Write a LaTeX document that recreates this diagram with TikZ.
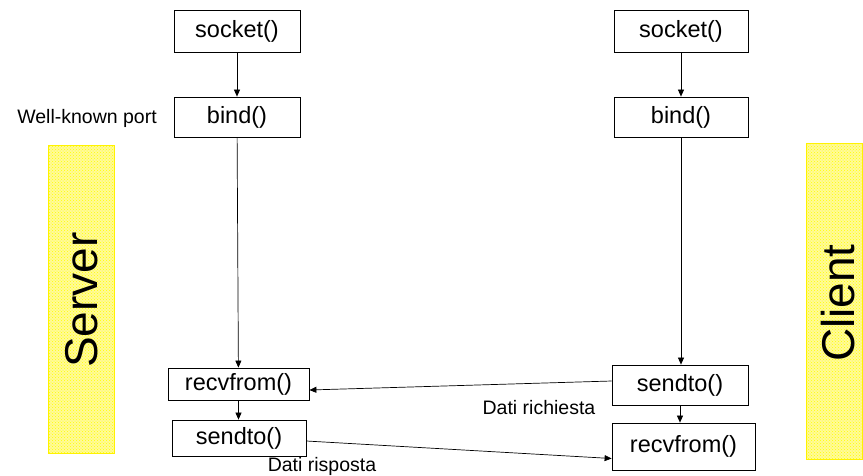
\documentclass[tikz,border=0pt]{standalone}
\usepackage{fontspec}
\setmainfont{Liberation Sans}
\usetikzlibrary{arrows.meta,patterns}
\begin{document}
\begin{tikzpicture}[x=1pt,y=-1pt,
  call/.style={draw,line width=0.8pt,inner sep=0pt,font=\fontsize{23.5}{25}\selectfont},
  flow/.style={line width=0.7pt,-{Triangle[length=7pt,width=6pt]}},
  lbl/.style={inner sep=0pt,font=\fontsize{19.5}{21}\selectfont},
  role/.style={draw=yellow,line width=0.8pt,preaction={fill=yellow!40},
    pattern=crosshatch dots,pattern color=yellow,inner sep=0pt},
  rolename/.style={rotate=90,font=\fontsize{46}{50}\selectfont}]
\useasboundingbox (0,0) rectangle (863,475);

% side bands
\node[role,minimum width=66pt,minimum height=308pt] (srvband) at (81,299) {};
\node[rolename] (srvname) at (82,300) {Server};
\node[role,minimum width=56pt,minimum height=316pt] (cliband) at (834,301) {};
\node[rolename] (cliname) at (838,303) {Client};

% server side calls
\node[call,minimum width=126pt,minimum height=42pt] (ssock) at (237,31) {socket()};
\node[call,minimum width=126pt,minimum height=40pt] (sbind) at (237,117) {bind()};
\node[call,minimum width=141pt,minimum height=32pt] (srecv) at (238.5,384) {recvfrom()};
\node[call,minimum width=134pt,minimum height=36pt] (ssend) at (239,438) {sendto()};

% client side calls
\node[call,minimum width=134pt,minimum height=42pt] (csock) at (681,31) {socket()};
\node[call,minimum width=134pt,minimum height=40pt] (cbind) at (681,117) {bind()};
\node[call,minimum width=136pt,minimum height=40pt] (csend) at (680,385) {sendto()};
\node[call,minimum width=143pt,minimum height=47pt] (crecv) at (683.5,446.5) {recvfrom()};

\node[lbl] (wkp) at (87,118) {Well-known port};
\node[lbl] (req) at (539,408) {Dati richiesta};
\node[lbl] (resp) at (322,466) {Dati risposta};

% local sequences
\draw[flow] (ssock) -- (sbind);
\draw[flow] (sbind) -- (srecv);
\draw[flow] (srecv) -- (srecv|-ssend.north);
\draw[flow] (csock) -- (cbind);
\draw[flow] (cbind.south) -- (cbind.south|-csend.north);
\draw[flow] (csend) -- (csend|-crecv.north);

% datagrams
\draw[flow] ([yshift=4pt]csend.west) -- ([yshift=-6pt]srecv.east);
\draw[flow] ([yshift=-3pt]ssend.east) -- ([yshift=-12pt]crecv.west);
\end{tikzpicture}
\end{document}
